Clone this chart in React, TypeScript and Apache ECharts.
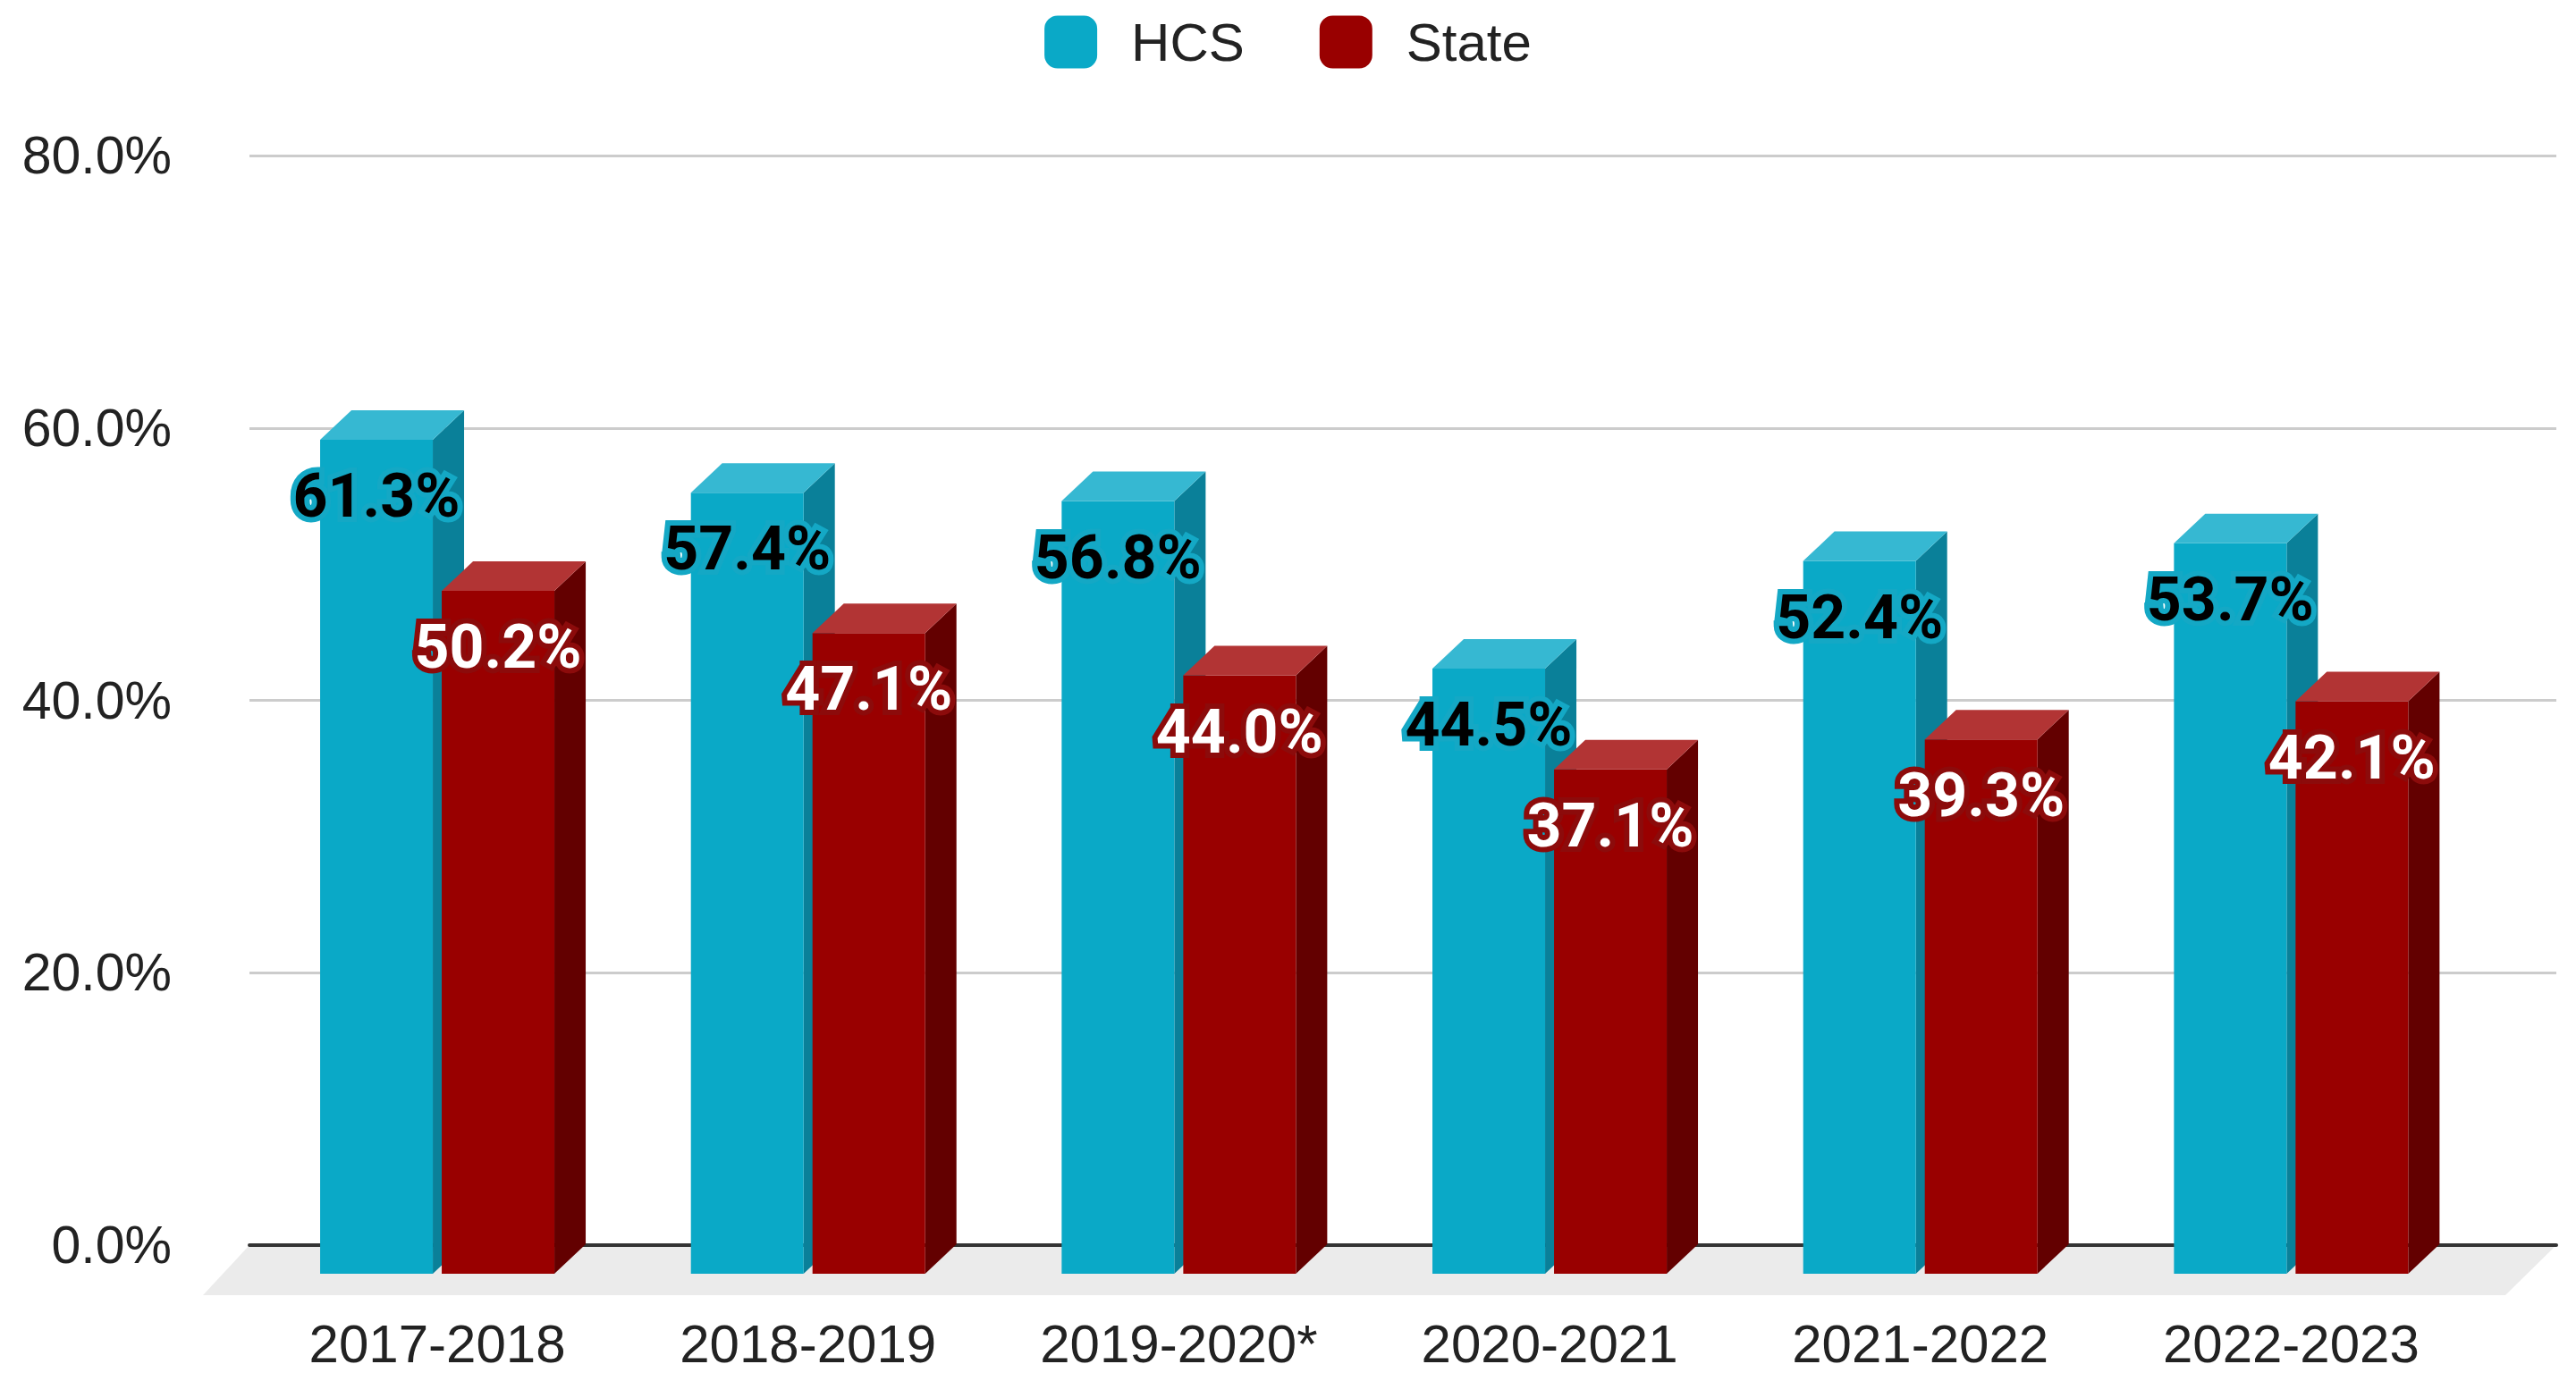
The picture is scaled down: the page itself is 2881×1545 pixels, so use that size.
import React, { useEffect, useRef } from 'react';
import * as echarts from 'echarts';

// ---------- data ----------
const categories = ['2017-2018', '2018-2019', '2019-2020*', '2020-2021', '2021-2022', '2022-2023'];
const seriesNames = ['HCS', 'State'];
const hcsValues = [61.3, 57.4, 56.8, 44.5, 52.4, 53.7];
const stateValues = [50.2, 47.1, 44.0, 37.1, 39.3, 42.1];
const yAxisMin = 0;
const yAxisMax = 80;
const yAxisInterval = 20;

// ---------- styling ----------
const PALETTE = [
  { front: '#0aa9c7', top: '#36b8d2', side: '#0a8099', text: '#000000', outline: '#14a8c5' },
  { front: '#990000', top: '#b23434', side: '#630000', text: '#ffffff', outline: '#8c0b0b' },
];
const BAR_W = 126;
const BAR_GAP = 10;
const DX = 35;
const DY = 33;
const LABEL_OFFSET = 96;
const AXIS_FONT = "'Liberation Sans', Arial, sans-serif";

function makeBarRenderer(seriesIdx: number) {
  const pal = PALETTE[seriesIdx];
  return (params: any, api: any) => {
    const i = api.value(0);
    const v = api.value(1);
    const top = api.coord([i, v]);
    const base = api.coord([i, 0]);
    const cx = top[0];
    const x0 = seriesIdx === 0 ? cx - BAR_GAP / 2 - BAR_W : cx + BAR_GAP / 2;
    const x1 = x0 + BAR_W;
    const yBack = top[1];
    const yFront = yBack + DY;
    const yBaseFront = base[1] + DY - 1;
    const yBaseBack = base[1] - 1;
    return {
      type: 'group',
      children: [
        {
          type: 'polygon',
          shape: { points: [[x1, yFront], [x1 + DX, yBack], [x1 + DX, yBaseBack], [x1, yBaseFront]] },
          style: { fill: pal.side },
        },
        {
          type: 'rect',
          shape: { x: x0, y: yFront, width: BAR_W, height: yBaseFront - yFront },
          style: { fill: pal.front },
        },
        {
          type: 'polygon',
          shape: { points: [[x0, yFront], [x1, yFront], [x1 + DX, yBack], [x0 + DX, yBack]] },
          style: { fill: pal.top },
        },
      ],
    };
  };
}

function makeLabelRenderer(seriesIdx: number) {
  const pal = PALETTE[seriesIdx];
  return (params: any, api: any) => {
    const i = api.value(0);
    const v = api.value(1);
    const top = api.coord([i, v]);
    const cx = top[0];
    const x = seriesIdx === 0 ? cx - BAR_GAP / 2 - BAR_W / 2 : cx + BAR_GAP / 2 + BAR_W / 2;
    return {
      type: 'text',
      x,
      y: top[1] + LABEL_OFFSET,
      z2: 100,
      style: {
        text: v.toFixed(1) + '%',
        fontFamily: 'Roboto, sans-serif',
        fontWeight: 'bold',
        fontSize: 68,
        fill: pal.text,
        stroke: pal.outline,
        lineWidth: 12,
        align: 'center',
        verticalAlign: 'middle',
      },
    };
  };
}

function floorRenderer(params: any, api: any) {
  const p0 = api.coord([0, 0]);
  const p1 = api.coord([1, 0]);
  return {
    type: 'polygon',
    shape: {
      points: [
        [p0[0], p0[1]],
        [p1[0], p1[1]],
        [p1[0] - 57, p1[1] + 56],
        [p0[0] - 52, p0[1] + 56],
      ],
    },
    style: { fill: '#ebebeb' },
  };
}

export default function App() {
  const ref = useRef<HTMLDivElement>(null);

  useEffect(() => {
    document.body.style.margin = '0';
    if (!ref.current) return;
    const chart = echarts.init(ref.current, null, { renderer: 'svg' });

    const gridCommon = { top: 174, bottom: 152 };
    const option: any = {
      animation: false,
      backgroundColor: '#ffffff',
      legend: {
        data: seriesNames,
        top: 12,
        left: 'center',
        icon: 'roundRect',
        itemWidth: 59,
        itemHeight: 59,
        itemGap: 84,
        textStyle: {
          fontFamily: AXIS_FONT,
          fontSize: 60,
          color: '#222222',
          padding: [0, 0, 0, 33],
        },
      },
      grid: [
        { ...gridCommon, left: 279, right: 22 },
        { ...gridCommon, left: 281.7, right: 111.3 },
      ],
      xAxis: [
        {
          type: 'value',
          gridIndex: 0,
          min: 0,
          max: 1,
          axisLine: { show: true, lineStyle: { color: '#333333', width: 4 } },
          axisTick: { show: false },
          axisLabel: { show: false },
          splitLine: { show: false },
        },
        {
          type: 'category',
          gridIndex: 1,
          data: categories,
          axisLine: { show: false },
          axisTick: { show: false },
          axisLabel: { fontFamily: AXIS_FONT, fontSize: 60, color: '#222222', margin: 80 },
        },
      ],
      yAxis: [
        {
          type: 'value',
          gridIndex: 0,
          min: yAxisMin,
          max: yAxisMax,
          interval: yAxisInterval,
          axisLine: { show: false },
          axisTick: { show: false },
          axisLabel: {
            fontFamily: AXIS_FONT,
            fontSize: 59,
            color: '#222222',
            margin: 87,
            formatter: (v: number) => v.toFixed(1) + '%',
          },
          splitLine: { show: true, lineStyle: { color: '#cccccc', width: 3 } },
        },
        {
          type: 'value',
          gridIndex: 1,
          min: yAxisMin,
          max: yAxisMax,
          interval: yAxisInterval,
          show: false,
        },
      ],
      series: [
        {
          type: 'custom',
          name: 'floor',
          xAxisIndex: 0,
          yAxisIndex: 0,
          z: -1,
          silent: true,
          renderItem: floorRenderer,
          data: [[0, 0]],
        },
        {
          type: 'custom',
          name: seriesNames[0],
          xAxisIndex: 1,
          yAxisIndex: 1,
          itemStyle: { color: PALETTE[0].front },
          renderItem: makeBarRenderer(0),
          data: hcsValues.map((v, i) => [i, v]),
        },
        {
          type: 'custom',
          name: seriesNames[1],
          xAxisIndex: 1,
          yAxisIndex: 1,
          itemStyle: { color: PALETTE[1].front },
          renderItem: makeBarRenderer(1),
          data: stateValues.map((v, i) => [i, v]),
        },
        {
          type: 'custom',
          name: 'HCS labels',
          xAxisIndex: 1,
          yAxisIndex: 1,
          z: 10,
          renderItem: makeLabelRenderer(0),
          data: hcsValues.map((v, i) => [i, v]),
        },
        {
          type: 'custom',
          name: 'State labels',
          xAxisIndex: 1,
          yAxisIndex: 1,
          z: 10,
          renderItem: makeLabelRenderer(1),
          data: stateValues.map((v, i) => [i, v]),
        },
      ],
    };
    chart.setOption(option);
    return () => chart.dispose();
  }, []);

  return <div ref={ref} style={{ width: 2881, height: 1545 }} />;
}
